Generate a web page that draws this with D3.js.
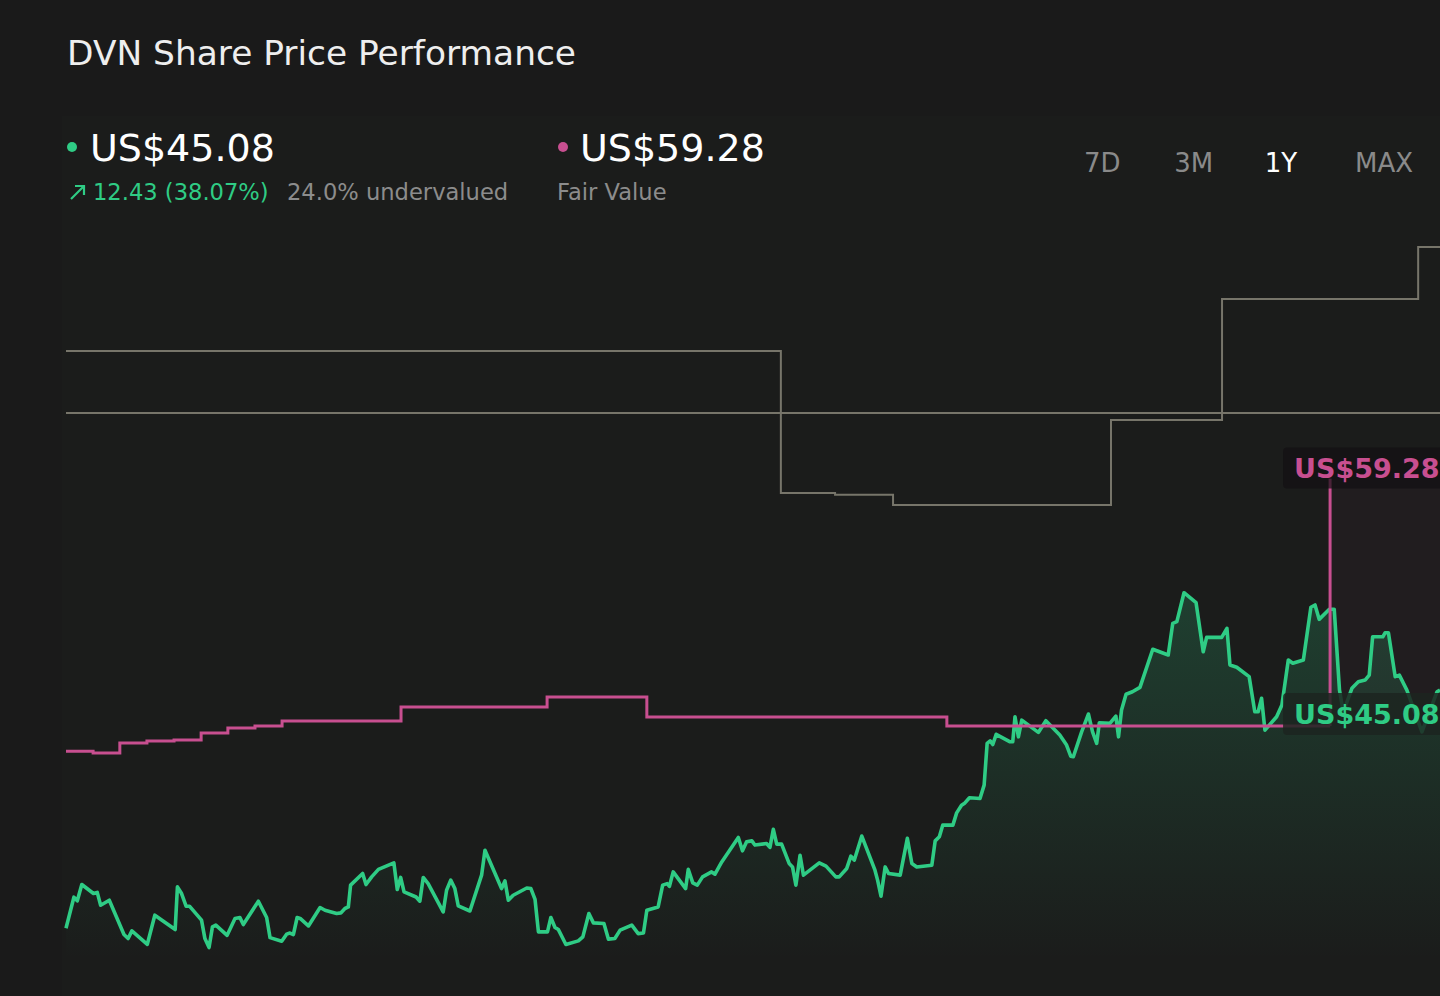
<!DOCTYPE html>
<html>
<head>
<meta charset="utf-8">
<script src="https://cdn.jsdelivr.net/npm/d3@7"></script>
<style>
  html, body { margin: 0; padding: 0; background: #1a1a1a; }
  svg { display: block; font-family: "DejaVu Sans", sans-serif; }
</style>
</head>
<body>
<div id="chart"></div>
<script>
const GREEN = "#2fcc85";
const PINK = "#c84f90";
const GREY = "#77756a";

// share price, day of the year -> US$
const priceDays = [0, 2.1, 3.0, 4.2, 7.3, 8.3, 9.2, 11.5, 15.4, 16.5, 17.5, 21.6, 23.6, 29.0, 29.6, 30.7,
  31.9, 32.8, 36.0, 36.9, 38.0, 38.9, 39.8, 42.8, 44.9, 46.2, 47.1, 51.1, 53.3, 54.2, 57.3, 58.6, 59.5,
  60.4, 61.4, 62.2, 64.4, 67.5, 68.8, 71.9, 73.0, 74.1, 75.0, 75.6, 78.8, 79.7, 81.2, 83.0, 87.1, 88.0,
  88.9, 89.8, 93.0, 94.0, 94.9, 96.2, 100.2, 101.1, 102.2, 103.3, 104.2, 107.3, 110.4, 111.3, 115.7,
  116.6, 117.5, 118.8, 122.4, 123.5, 124.6, 125.5, 127.9, 128.8, 129.9, 130.8, 132.8, 136.1, 137.3,
  138.9, 140.1, 142.9, 144.1, 145.8, 147.2, 150.3, 152.0, 153.4, 154.3, 157.3, 158.5, 159.7, 160.3,
  161.3, 164.6, 165.3, 166.5, 167.7, 169.1, 171.5, 172.4, 174.2, 178.6, 179.7, 180.8, 182.2, 183.0,
  186.1, 187.0, 187.9, 188.8, 190.1, 192.1, 193.0, 193.9, 195.0, 195.9, 200.1, 201.9, 204.5, 205.4,
  207.4, 208.5, 209.4, 211.4, 214.9, 215.6, 216.5, 217.6, 218.5, 221.6, 223.5, 224.7, 226.0, 230.0,
  230.9, 232.0, 232.9, 235.6, 236.6, 237.9, 238.8, 240.0, 242.8, 243.9, 244.7, 245.5, 246.2, 247.1,
  250.8, 251.5, 252.1, 253.0, 253.9, 258.3, 260.3, 264.0, 265.8, 266.9, 267.6, 269.8, 271.6, 272.7,
  273.8, 274.5, 277.3, 278.9, 279.6, 280.4, 281.6, 283.3, 285.3, 288.7, 292.8, 294.0, 295.1, 297.0,
  300.2, 302.1, 303.0, 307.0, 308.4, 309.2, 311.0, 314.3, 315.8, 316.7, 317.6, 318.5, 321.6, 323.0,
  324.7, 325.9, 328.7, 330.7, 331.8, 332.9, 335.6, 336.9, 338.3, 339.3, 341.6, 343.3, 345.1, 346.2,
  347.1, 349.8, 350.4, 351.3, 353.1, 354.2, 356.2, 360.2, 364.2, 365];
const priceValues = [32.65, 34.27, 34.08, 34.93, 34.46, 34.52, 33.85, 34.11, 32.32, 32.11, 32.51, 31.81,
  33.33, 32.58, 34.81, 34.46, 33.80, 33.80, 33.07, 32.11, 31.64, 32.72, 32.81, 32.28, 33.16, 33.21,
  32.84, 34.06, 33.21, 32.16, 31.97, 32.34, 32.40, 32.32, 33.21, 33.16, 32.77, 33.73, 33.59, 33.42,
  33.45, 33.68, 33.76, 34.90, 35.51, 34.93, 35.33, 35.72, 36.06, 34.67, 35.30, 34.55, 34.28, 34.06,
  35.30, 34.98, 33.50, 34.63, 35.16, 34.72, 33.82, 33.55, 35.42, 36.72, 34.72, 35.12, 34.11, 34.37,
  34.75, 34.72, 34.15, 32.46, 32.46, 33.21, 32.69, 32.58, 31.80, 31.99, 32.20, 33.42, 32.93, 32.90,
  32.08, 32.11, 32.55, 32.81, 32.37, 32.40, 33.59, 33.76, 34.90, 34.98, 34.84, 35.59, 34.72, 35.72,
  35.02, 34.90, 35.33, 35.59, 35.47, 36.11, 37.39, 36.69, 37.16, 37.21, 36.99, 37.07, 36.87, 37.81,
  37.04, 37.04, 36.03, 35.85, 34.90, 36.46, 35.42, 36.06, 35.89, 35.33, 35.33, 35.77, 36.41, 36.20,
  37.46, 35.68, 35.16, 34.32, 35.85, 35.51, 35.42, 37.34, 36.03, 35.85, 35.94, 37.21, 37.42, 38.03,
  38.03, 38.67, 39.07, 39.19, 39.46, 39.42, 40.12, 42.30, 42.43, 42.24, 42.77, 42.38, 42.38, 43.69,
  42.64, 43.51, 42.87, 43.48, 42.73, 42.21, 41.63, 41.60, 42.90, 43.83, 42.90, 42.30, 43.37, 43.34,
  43.72, 42.64, 44.04, 44.86, 44.99, 45.22, 47.21, 46.91, 48.56, 48.65, 50.16, 49.64, 47.08, 47.83,
  47.83, 48.30, 46.39, 46.27, 45.78, 43.95, 43.95, 44.65, 42.99, 43.69, 44.30, 46.65, 46.48, 46.65,
  49.40, 49.52, 48.77, 49.30, 49.30, 45.08, 43.93, 45.17, 45.51, 45.60, 45.86, 47.86, 47.86, 48.07,
  48.07, 45.78, 45.86, 45.08, 42.90, 44.99, 45.08];

// fair value history (step), day -> US$
const fairDays = [0, 7.2, 14.3, 21.5, 28.7, 35.9, 43.0, 50.2, 57.4, 89.0, 127.8, 154.3, 234.0, 335.8];
const fairValues = [57.97, 57.87, 58.39, 58.50, 58.55, 58.91, 59.18, 59.28, 59.54, 60.27, 60.79, 59.75,
  59.28, 59.28];

// grey reference lines
const targetDays = [0, 189.9, 204.3, 219.7, 277.6, 307.1, 359.2, 365];
const targetValues = [78.87, 71.45, 71.36, 70.82, 75.26, 81.58, 84.30, 84.30];
const flatValue = 75.63;

const markerDay = 335.8;
const markerTop = 72.2;

const currentPrice = "US$45.08";
const fairPrice = "US$59.28";
const changeText = "12.43 (38.07%)";
const undervaluedText = "24.0% undervalued";
const tabs = ["7D", "3M", "1Y", "MAX"];
const activeTab = "1Y";

const width = 1440, height = 996;

const svg = d3.select("#chart").append("svg")
  .attr("width", width)
  .attr("height", height);

svg.append("rect").attr("width", width).attr("height", height).attr("fill", "#1a1a1a");
svg.append("rect").attr("x", 62).attr("y", 116).attr("width", width - 62).attr("height", height - 116)
  .attr("fill", "#1b1c1b");

let x = d3.scaleLinear().domain([0, 365]).range([66, 1440]);
let y = d3.scaleLinear().domain([30, 55]).range([979, 500]);
let yFair = d3.scaleLinear().domain([55, 85]).range([808, 233.5]);

let price = priceDays.map((d, i) => ({ day: d, value: priceValues[i] }));
let fair = fairDays.map((d, i) => ({ day: d, value: fairValues[i] }));
let target = targetDays.map((d, i) => ({ day: d, value: targetValues[i] }));

// header
svg.append("text").attr("x", 67).attr("y", 65)
  .attr("fill", "#eeeeee").attr("font-size", 34.4).text("DVN Share Price Performance");

svg.append("circle").attr("cx", 72).attr("cy", 147).attr("r", 5).attr("fill", GREEN);
svg.append("text").attr("x", 90).attr("y", 161)
  .attr("fill", "#ffffff").attr("font-size", 38).text(currentPrice);

svg.append("path").attr("d", "M71,199 L84,186 M75,186 L84,186 L84,195")
  .attr("stroke", GREEN).attr("stroke-width", 2.2).attr("fill", "none");
svg.append("text").attr("x", 93).attr("y", 200)
  .attr("fill", GREEN).attr("font-size", 22.6).text(changeText);
svg.append("text").attr("x", 287).attr("y", 200)
  .attr("fill", "#8c8c8c").attr("font-size", 22.6).text(undervaluedText);

svg.append("circle").attr("cx", 563).attr("cy", 147).attr("r", 5).attr("fill", PINK);
svg.append("text").attr("x", 580).attr("y", 161)
  .attr("fill", "#ffffff").attr("font-size", 38).text(fairPrice);
svg.append("text").attr("x", 557).attr("y", 200)
  .attr("fill", "#8c8c8c").attr("font-size", 22.6).text("Fair Value");

let tabX = d3.scalePoint().domain(tabs).range([1084, 1355]);
svg.append("g").selectAll("text")
  .data(tabs)
  .join("text")
  .attr("x", d => tabX(d))
  .attr("y", 172)
  .attr("font-size", 26)
  .attr("fill", d => d === activeTab ? "#ffffff" : "#8a8a8a")
  .text(d => d);

// gradient for price area
let defs = svg.append("defs");
let grad = defs.append("linearGradient").attr("id", "greenFill")
  .attr("gradientUnits", "userSpaceOnUse")
  .attr("x1", 0).attr("x2", 0).attr("y1", y(50)).attr("y2", y(31));
grad.append("stop").attr("offset", "0%").attr("stop-color", GREEN).attr("stop-opacity", 0.2);
grad.append("stop").attr("offset", "100%").attr("stop-color", GREEN).attr("stop-opacity", 0);

// grey lines
svg.append("line")
  .attr("x1", x(0)).attr("x2", x(365))
  .attr("y1", yFair(flatValue)).attr("y2", yFair(flatValue))
  .attr("stroke", GREY).attr("stroke-width", 2);

svg.append("path")
  .datum(target)
  .attr("d", d3.line().x(d => x(d.day)).y(d => yFair(d.value)).curve(d3.curveStepAfter))
  .attr("fill", "none").attr("stroke", GREY).attr("stroke-width", 2);

// undervalued zone
svg.append("rect")
  .attr("x", x(markerDay)).attr("y", yFair(markerTop))
  .attr("width", x(365) - x(markerDay))
  .attr("height", y(45.08) - yFair(markerTop) + 30)
  .attr("fill", PINK).attr("opacity", 0.04);

// price area + line
svg.append("path")
  .datum(price)
  .attr("d", d3.area().x(d => x(d.day)).y0(y(30)).y1(d => y(d.value)))
  .attr("fill", "url(#greenFill)");

svg.append("path")
  .datum(price)
  .attr("d", d3.line().x(d => x(d.day)).y(d => y(d.value)))
  .attr("fill", "none").attr("stroke", GREEN).attr("stroke-width", 3.6)
  .attr("stroke-linejoin", "round");

// fair value line
svg.append("path")
  .datum(fair)
  .attr("d", d3.line().x(d => x(d.day)).y(d => yFair(d.value)).curve(d3.curveStepAfter))
  .attr("fill", "none").attr("stroke", PINK).attr("stroke-width", 3);

svg.append("line")
  .attr("x1", x(markerDay)).attr("x2", x(markerDay))
  .attr("y1", yFair(markerTop)).attr("y2", yFair(59.28))
  .attr("stroke", PINK).attr("stroke-width", 3);

// value labels
let labelX = x(markerDay) - 47;
let fairLabelY = yFair(markerTop) - 11;
let priceLabelY = y(45.08) + 24;

svg.append("rect").attr("x", labelX).attr("y", fairLabelY - 20)
  .attr("width", width - labelX + 10).attr("height", 41).attr("rx", 4)
  .attr("fill", "#121012").attr("opacity", 0.7);
svg.append("text").attr("x", labelX + 11).attr("y", fairLabelY + 10)
  .attr("fill", PINK).attr("font-size", 27).attr("font-weight", "bold").text(fairPrice);

svg.append("rect").attr("x", labelX).attr("y", priceLabelY - 21)
  .attr("width", width - labelX + 10).attr("height", 42).attr("rx", 4)
  .attr("fill", "#1c2520").attr("opacity", 0.85);
svg.append("text").attr("x", labelX + 11).attr("y", priceLabelY + 10)
  .attr("fill", GREEN).attr("font-size", 27).attr("font-weight", "bold").text(currentPrice);
</script>
</body>
</html>
